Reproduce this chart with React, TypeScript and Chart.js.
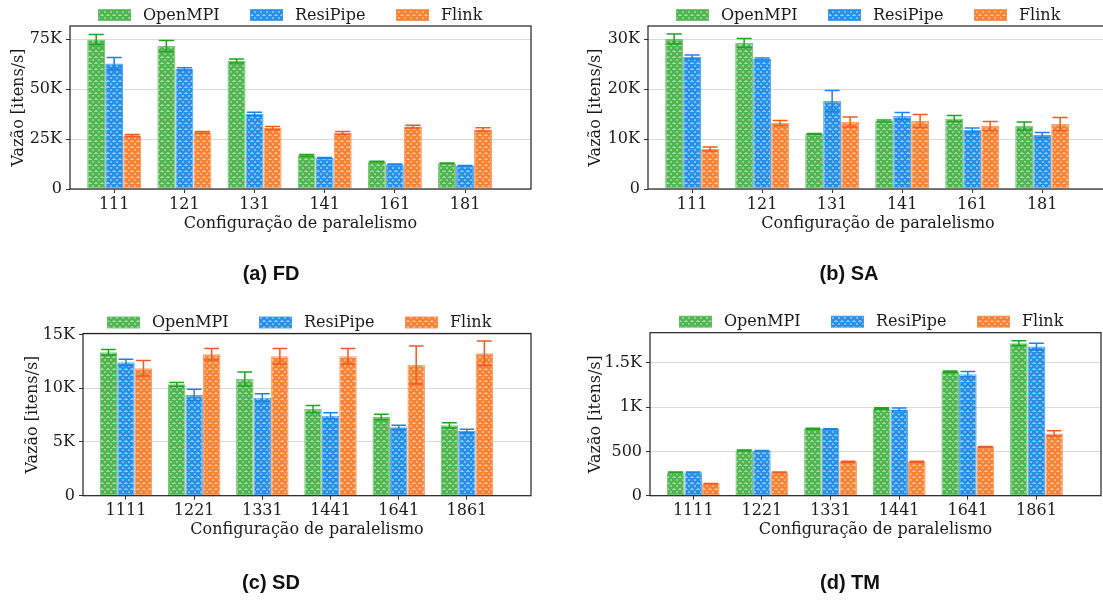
import React, { useEffect, useRef } from 'react';
import { Chart, registerables } from 'chart.js';

Chart.register(...registerables);

// ---------- data ----------
const seriesNames = ['OpenMPI', 'ResiPipe', 'Flink'];

const fdLabels = ['111', '121', '131', '141', '161', '181'];
const fdOpenMPI = [74700, 71500, 64000, 16800, 13700, 12800];
const fdOpenMPIErr = [2600, 2800, 1000, 400, 200, 200];
const fdResiPipe = [62800, 60000, 37500, 15500, 12300, 11500];
const fdResiPipeErr = [3000, 600, 900, 300, 200, 200];
const fdFlink = [26800, 28300, 30500, 28000, 31200, 29800];
const fdFlinkErr = [500, 400, 700, 800, 700, 800];

const saLabels = ['111', '121', '131', '141', '161', '181'];
const saOpenMPI = [30000, 29200, 11000, 13600, 14100, 12600];
const saOpenMPIErr = [1000, 900, 100, 200, 600, 800];
const saResiPipe = [26400, 26000, 17600, 14600, 11800, 10800];
const saResiPipeErr = [400, 200, 2100, 700, 400, 500];
const saFlink = [8000, 13200, 13400, 13600, 12600, 13000];
const saFlinkErr = [400, 500, 1000, 1300, 900, 1300];

const sdLabels = ['1111', '1221', '1331', '1441', '1641', '1861'];
const sdOpenMPI = [13350, 10370, 10870, 8070, 7330, 6550];
const sdOpenMPIErr = [250, 170, 650, 320, 250, 250];
const sdResiPipe = [12420, 9380, 9130, 7450, 6370, 6020];
const sdResiPipeErr = [280, 520, 370, 280, 180, 160];
const sdFlink = [11860, 13170, 12980, 12980, 12170, 13260];
const sdFlinkErr = [720, 530, 720, 720, 1770, 1150];

const tmLabels = ['1111', '1221', '1331', '1441', '1641', '1861'];
const tmOpenMPI = [263, 511, 756, 985, 1399, 1722];
const tmOpenMPIErr = [4, 5, 6, 8, 8, 26];
const tmResiPipe = [263, 504, 752, 974, 1372, 1684];
const tmResiPipeErr = [4, 5, 5, 15, 30, 38];
const tmFlink = [135, 263, 383, 383, 549, 703];
const tmFlinkErr = [3, 4, 5, 5, 6, 30];

const fdYMax = 81500;
const fdYTicks = [0, 25000, 50000, 75000];
const saYMax = 32600;
const saYTicks = [0, 10000, 20000, 30000];
const sdYMax = 15100;
const sdYTicks = [0, 5000, 10000, 15000];
const tmYMax = 1840;
const tmYTicks = [0, 500, 1000, 1500];

// ---------- styles ----------
const HATCH = ['#4fb54f', '#2590ea', '#f88232'];
const HATCH_BG = ['#a9dca9', '#9ecdf8', '#fcc39c'];
const EDGE = ['rgba(100,190,100,0.85)', 'rgba(60,155,238,0.85)', 'rgba(248,145,80,0.85)'];
const ERRC = ['#1fa51f', '#1a84e6', '#f25a22'];
const SERIF = "'DejaVu Serif', serif";
const TEXT = '#1a1a1a';

type Area = { l: number; t: number; r: number; b: number };
type Panel = {
  caption: string;
  labels: string[];
  series: number[][];
  errs: number[][];
  yMax: number;
  yTicks: number[];
  left: number;
  top: number;
  width: number;
  height: number;
  area: Area;
  yTitlePad: number;
  captionX: number;
  captionY: number;
  legendX: number;
};

const panels: Panel[] = [
  {
    caption: '(a) FD', labels: fdLabels,
    series: [fdOpenMPI, fdResiPipe, fdFlink], errs: [fdOpenMPIErr, fdResiPipeErr, fdFlinkErr],
    yMax: fdYMax, yTicks: fdYTicks,
    left: 0, top: 0, width: 551, height: 300,
    area: { l: 70, t: 26, r: 531, b: 189 }, yTitlePad: 9, captionX: 271, captionY: 274, legendX: 28,
  },
  {
    caption: '(b) SA', labels: saLabels,
    series: [saOpenMPI, saResiPipe, saFlink], errs: [saOpenMPIErr, saResiPipeErr, saFlinkErr],
    yMax: saYMax, yTicks: saYTicks,
    left: 560, top: 0, width: 560, height: 300,
    area: { l: 88, t: 26, r: 548, b: 189 }, yTitlePad: 26, captionX: 289, captionY: 274, legendX: 28,
  },
  {
    caption: '(c) SD', labels: sdLabels,
    series: [sdOpenMPI, sdResiPipe, sdFlink], errs: [sdOpenMPIErr, sdResiPipeErr, sdFlinkErr],
    yMax: sdYMax, yTicks: sdYTicks,
    left: 0, top: 300, width: 551, height: 301,
    area: { l: 83, t: 33.5, r: 531, b: 195.7 }, yTitlePad: 23, captionX: 271, captionY: 283, legendX: 24,
  },
  {
    caption: '(d) TM', labels: tmLabels,
    series: [tmOpenMPI, tmResiPipe, tmFlink], errs: [tmOpenMPIErr, tmResiPipeErr, tmFlinkErr],
    yMax: tmYMax, yTicks: tmYTicks,
    left: 560, top: 300, width: 560, height: 301,
    area: { l: 90, t: 32.7, r: 541, b: 195.7 }, yTitlePad: 26, captionX: 290, captionY: 283, legendX: 29,
  },
];

const X_MIN = -0.63;
const X_MAX = 5.94;
const X_AXIS_H = 46;
const LEGEND_OFFSETS = [0, 152, 298];

function makePattern(line: string, bg: string): CanvasPattern | string {
  const s = 6;
  const c = document.createElement('canvas');
  c.width = s;
  c.height = s;
  const g = c.getContext('2d');
  if (!g) return line;
  g.fillStyle = bg;
  g.fillRect(0, 0, s, s);
  g.strokeStyle = line;
  g.lineWidth = 2.5;
  g.beginPath();
  for (const o of [-s, 0, s]) {
    g.moveTo(o, 0);
    g.lineTo(o + s, s);
    g.moveTo(o + s, 0);
    g.lineTo(o, s);
  }
  g.stroke();
  return g.createPattern(c, 'repeat') || line;
}

function fmtY(v: number): string {
  if (v === 0) return '0';
  if (v >= 1000) return `${v / 1000}K`;
  return String(v);
}

function buildChart(canvas: HTMLCanvasElement, p: Panel): Chart {
  const patterns = HATCH.map((c, i) => makePattern(c, HATCH_BG[i]));
  const font = { family: SERIF, size: 16 };

  const overlay = {
    id: 'overlay' + p.caption.replace(/\W/g, ''),
    afterDatasetsDraw(chart: any) {
      const ctx: CanvasRenderingContext2D = chart.ctx;
      const ys = chart.scales.y;
      chart.data.datasets.forEach((_ds: any, di: number) => {
        const meta = chart.getDatasetMeta(di);
        meta.data.forEach((el: any, i: number) => {
          const v = p.series[di][i];
          const e = p.errs[di][i];
          const yTop = ys.getPixelForValue(v + e);
          const yBot = ys.getPixelForValue(v - e);
          const x = el.x;
          const half = el.width * 0.42;
          ctx.save();
          ctx.strokeStyle = ERRC[di];
          ctx.lineWidth = 1.5;
          ctx.beginPath();
          ctx.moveTo(x, yTop);
          ctx.lineTo(x, yBot);
          ctx.moveTo(x - half, yTop);
          ctx.lineTo(x + half, yTop);
          ctx.moveTo(x - half, yBot);
          ctx.lineTo(x + half, yBot);
          ctx.stroke();
          ctx.restore();
        });
      });
      const a = chart.chartArea;
      ctx.save();
      ctx.strokeStyle = '#222';
      ctx.lineWidth = 1.2;
      ctx.strokeRect(a.left, a.top, a.right - a.left, a.bottom - a.top);
      ctx.restore();
    },
    afterDraw(chart: any) {
      const ctx: CanvasRenderingContext2D = chart.ctx;
      const a = chart.chartArea;
      ctx.save();
      const cy = a.top - 11;
      seriesNames.forEach((name, i) => {
        const x = a.left + p.legendX + LEGEND_OFFSETS[i];
        ctx.fillStyle = patterns[i] as any;
        ctx.fillRect(x, cy - 5.5, 33, 11);
        ctx.strokeStyle = EDGE[i];
        ctx.lineWidth = 1;
        ctx.strokeRect(x + 0.5, cy - 5.5, 32, 11);
        ctx.fillStyle = TEXT;
        ctx.font = `16px ${SERIF}`;
        ctx.textBaseline = 'middle';
        ctx.textAlign = 'left';
        ctx.fillText(name, x + 45, cy + 0.5);
      });
      ctx.font = "bold 20px 'Liberation Sans', Arial, sans-serif";
      ctx.fillStyle = '#111';
      ctx.textAlign = 'center';
      ctx.textBaseline = 'middle';
      ctx.fillText(p.caption, p.captionX, p.captionY);
      ctx.restore();
    },
  };

  return new Chart(canvas, {
    type: 'bar',
    data: {
      datasets: seriesNames.map((name, di) => ({
        label: name,
        data: p.series[di].map((v, i) => ({ x: i, y: v })),
        backgroundColor: patterns[di] as any,
        borderColor: EDGE[di],
        borderWidth: 1.2,
        borderSkipped: false,
        categoryPercentage: 0.77,
        barPercentage: 1,
      })),
    },
    options: {
      responsive: false,
      animation: false,
      devicePixelRatio: 1,
      layout: {
        padding: {
          left: 0,
          top: p.area.t,
          right: p.width - p.area.r,
          bottom: p.height - p.area.b - X_AXIS_H,
        },
      },
      plugins: {
        legend: { display: false },
        title: { display: false },
        tooltip: { enabled: false },
      },
      scales: {
        x: {
          type: 'linear',
          min: X_MIN,
          max: X_MAX,
          bounds: 'data',
          offset: false,
          afterBuildTicks: (s: any) => { s.ticks = p.labels.map((_l, i) => ({ value: i })); },
          afterFit: (s: any) => { s.height = X_AXIS_H; },
          grid: { offset: false, drawOnChartArea: false, drawTicks: true, tickLength: 4, tickColor: '#333', tickWidth: 1 },
          border: { display: false },
          ticks: {
            autoSkip: false,
            maxRotation: 0,
            padding: 2,
            color: TEXT,
            font,
            callback: (v: any) => {
              const n = Math.round(Number(v));
              return p.labels[n] ?? '';
            },
          },
          title: {
            display: true,
            text: 'Configuração de paralelismo',
            color: TEXT,
            font,
            padding: { top: 0, bottom: 2 },
          },
        },
        y: {
          type: 'linear',
          min: 0,
          max: p.yMax,
          bounds: 'data',
          afterBuildTicks: (s: any) => { s.ticks = p.yTicks.map((v) => ({ value: v })); },
          afterFit: (s: any) => { s.width = p.area.l; },
          grid: {
            color: '#d2d2d2',
            lineWidth: 0.8,
            borderDash: [3, 2],
            tickColor: '#333',
            tickLength: 4,
            tickWidth: 1,
            tickBorderDash: [],
          } as any,
          border: { display: false },
          ticks: {
            padding: 4,
            color: TEXT,
            font,
            callback: (v: any) => fmtY(Number(v)),
          },
          title: {
            display: true,
            text: 'Vazão [itens/s]',
            color: TEXT,
            font,
            padding: { top: p.yTitlePad, bottom: 0 },
          },
        },
      },
    } as any,
    plugins: [overlay],
  });
}

export default function App() {
  const refs = useRef<(HTMLCanvasElement | null)[]>([]);

  useEffect(() => {
    const charts: Chart[] = [];
    panels.forEach((p, i) => {
      const c = refs.current[i];
      if (c) charts.push(buildChart(c, p));
    });
    return () => charts.forEach((c) => c.destroy());
  }, []);

  return (
    <div
      style={{
        position: 'absolute',
        left: 0,
        top: 0,
        width: 1103,
        height: 601,
        overflow: 'hidden',
        background: '#fff',
      }}
    >
      {panels.map((p, i) => (
        <canvas
          key={p.caption}
          ref={(el) => { refs.current[i] = el; }}
          width={p.width}
          height={p.height}
          style={{ position: 'absolute', left: p.left, top: p.top, width: p.width, height: p.height }}
        />
      ))}
    </div>
  );
}
